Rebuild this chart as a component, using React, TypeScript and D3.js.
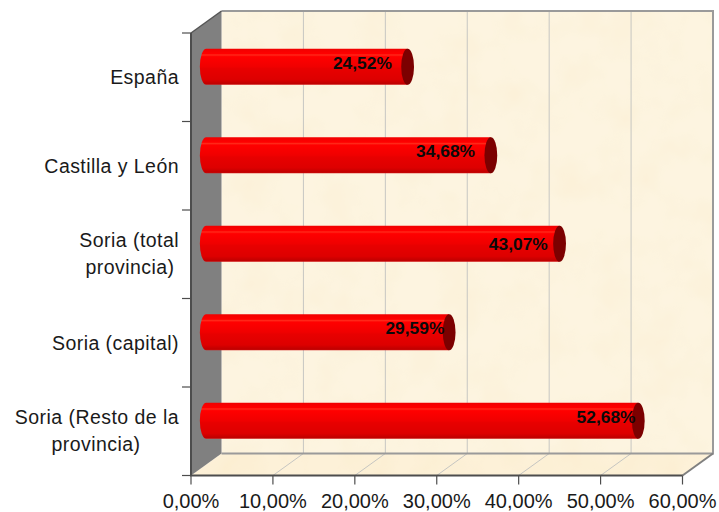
import React from "react";
import * as d3 from "d3";

const categories: string[][] = [
  ["España"],
  ["Castilla y León"],
  ["Soria (total", "provincia)"],
  ["Soria (capital)"],
  ["Soria (Resto de la", "provincia)"],
];
const categoryLabelCenters: (number | null)[][] = [[null], [null], [null, 130], [null], [null, 96]];
const values = [24.52, 34.68, 43.07, 29.59, 52.68];
const xTicks = [0, 10, 20, 30, 40, 50, 60];
const labelShiftX = [0, 0, 4, 11, 13];
const labelShiftY = [0, 0, 4, 0, 0];

const W = 719, H = 512;
const DX = 30.5, DY = -22;
const FONT = "'Liberation Sans', Arial, sans-serif";

const x = d3.scaleLinear().domain([0, 60]).range([191, 682.5]);
const yBand = d3.scaleBand<number>().domain(d3.range(categories.length)).range([33, 475.5]);
const fmt = (v: number) => v.toFixed(2).replace(".", ",") + "%";

export default function App() {
  const bw = yBand.bandwidth();
  const [y0, y1] = [33, 475.5];
  const x0 = x(0), x1 = x(60);
  const rx = 6.4, ry = 18;
  return (
    <svg width={W} height={H} style={{ position: "fixed", left: 0, top: 0, background: "#fff" }} fontFamily={FONT}>
      <defs>
        <linearGradient id="bar" x1="0" y1="0" x2="0" y2="1">
          <stop offset="0" stopColor="#f00000" />
          <stop offset="0.14" stopColor="#ff0000" />
          <stop offset="0.17" stopColor="#ff2a1a" />
          <stop offset="0.22" stopColor="#ff0000" />
          <stop offset="0.5" stopColor="#f00000" />
          <stop offset="0.55" stopColor="#e80000" />
          <stop offset="0.85" stopColor="#dd0000" />
          <stop offset="0.97" stopColor="#c00000" />
          <stop offset="1" stopColor="#d01010" />
        </linearGradient>
        <filter id="parch" x="0" y="0" width="100%" height="100%">
          <feTurbulence type="fractalNoise" baseFrequency="0.025" numOctaves="3" seed="4" />
          <feColorMatrix type="matrix" values="0 0 0 0 0.95  0 0 0 0 0.86  0 0 0 0 0.62  0.4 0 0 0 -0.16" />
          <feComposite in2="SourceGraphic" operator="in" />
          <feBlend in2="SourceGraphic" mode="multiply" />
        </filter>
      </defs>

      {/* back wall */}
      <rect x={x0 + DX} y={y0 + DY} width={x1 - x0} height={y1 - y0} fill="#fdf4e0" filter="url(#parch)" />
      {/* floor */}
      <path
        d={`M${x0},${y1}L${x0 + DX},${y1 + DY}L${x1 + DX},${y1 + DY}L${x1},${y1}Z`}
        fill="#fdf1d8"
        filter="url(#parch)"
      />
      {/* grid */}
      {xTicks.slice(1, -1).map((t) => (
        <g key={t} stroke="#c6c6c2" strokeWidth={1} fill="none">
          <path d={`M${x(t) + DX},${y0 + DY}V${y1 + DY}`} />
          <path d={`M${x(t)},${y1}L${x(t) + DX},${y1 + DY}`} />
        </g>
      ))}
      {/* wall outlines */}
      <path d={`M${x0 + DX},${y0 + DY}H${x1 + DX}V${y1 + DY}H${x0 + DX}`} fill="none" stroke="#9a9a9a" strokeWidth={2} />
      {/* left wall */}
      <path d={`M${x0},${y0}L${x0 + DX},${y0 + DY}V${y1 + DY}L${x0},${y1}Z`} fill="#808080" />
      <path d={`M${x0},${y0}L${x0 + DX},${y0 + DY}`} stroke="#555" strokeWidth={1.5} fill="none" />
      <path d={`M${x1},${y1}L${x1 + DX},${y1 + DY}`} stroke="#808080" strokeWidth={2} fill="none" />

      {/* axes */}
      <g stroke="#4d4d4d" fill="none">
        <path d={`M${x0},${y0}V${y1}H${x1}`} strokeWidth={2} />
        {d3.range(categories.length + 1).map((i) => {
          const yy = y0 + i * bw;
          return <path key={i} d={`M${x0 - 9},${yy}H${x0}`} strokeWidth={1.2} />;
        })}
        {xTicks.map((t) => (
          <path key={t} d={`M${x(t)},${y1}V${y1 + 9}`} strokeWidth={1.2} />
        ))}
      </g>

      {/* x tick labels */}
      {xTicks.map((t) => (
        <text key={t} x={x(t)} y={508} textAnchor="middle" fontSize={20} fill="#1a1a1a">
          {fmt(t)}
        </text>
      ))}

      {/* category labels */}
      {categories.map((lines, i) => {
        const cy = (yBand(i) as number) + bw / 2;
        const lh = 27.5;
        return lines.map((l, j) => {
          const c = categoryLabelCenters[i][j];
          const ly = cy + (lines.length > 1 ? 6 : 7) + (j - (lines.length - 1) / 2) * lh;
          return (
            <text
              key={j}
              x={c ?? 179}
              y={ly}
              textAnchor={c == null ? "end" : "middle"}
              fontSize={19.5}
              letterSpacing={0.45}
              fill="#1a1a1a"
            >
              {l}
            </text>
          );
        });
      })}

      {/* bars */}
      {values.map((v, i) => {
        const cy = (yBand(i) as number) + bw / 2 + DY / 2 + 0.5;
        const xl = x(0) + DX / 2;
        const xr = x(v) + DX / 2 + 0.5;
        return (
          <g key={i}>
            <path
              d={`M${xl},${cy - ry}H${xr}V${cy + ry}H${xl}A${rx},${ry} 0 0 1 ${xl},${cy - ry}Z`}
              fill="url(#bar)"
            />
            <ellipse cx={xr} cy={cy} rx={rx} ry={ry} fill="#7c0000" />
            <text
              x={x(v) + labelShiftX[i]}
              y={cy + 2 + labelShiftY[i]}
              textAnchor="end"
              fontSize={17.4}
              fontWeight="bold"
              fill="#0a0a0a"
            >
              {fmt(v)}
            </text>
          </g>
        );
      })}
    </svg>
  );
}
